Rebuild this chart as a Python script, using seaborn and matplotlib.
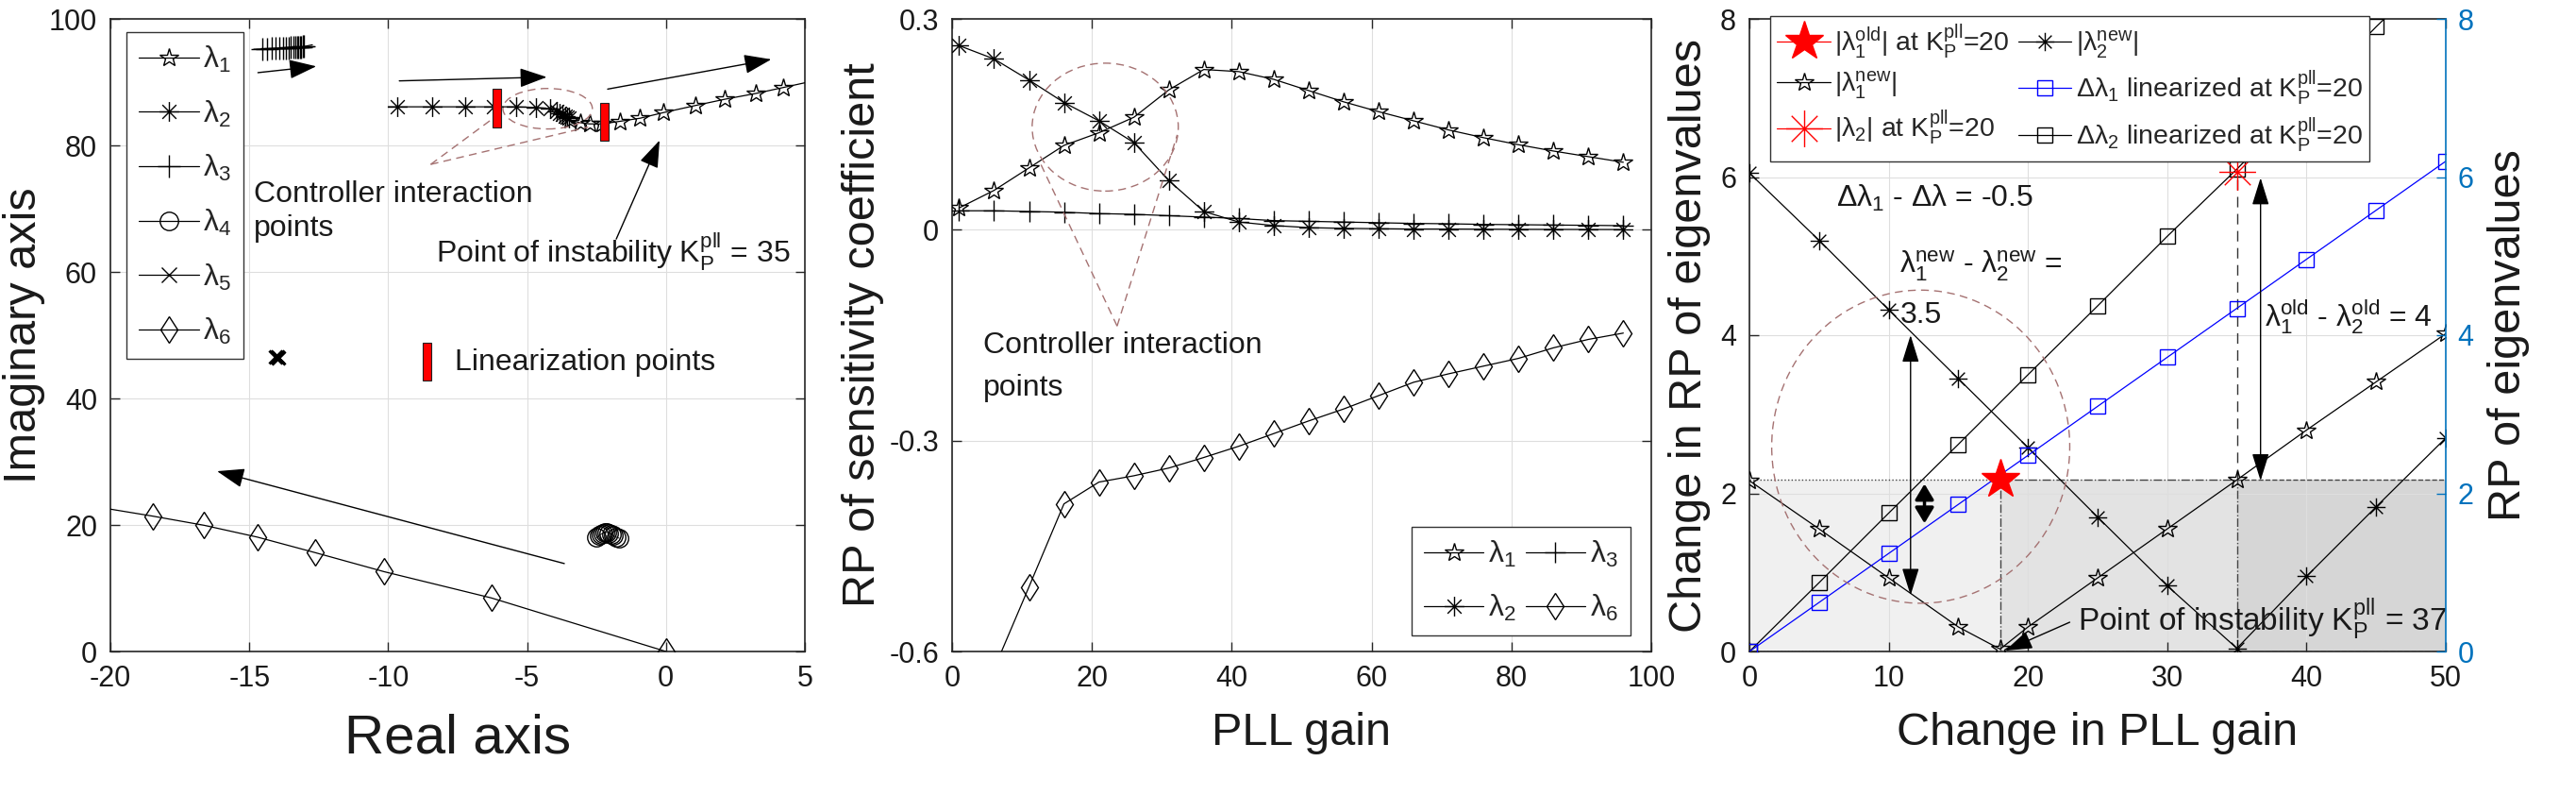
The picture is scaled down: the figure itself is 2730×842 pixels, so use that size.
import matplotlib
matplotlib.use("Agg")
import matplotlib.pyplot as plt
import seaborn as sns
from matplotlib.path import Path
from matplotlib.patches import Ellipse, Rectangle
from matplotlib.lines import Line2D

# ---------------- data : panel 1 (root locus) ----------------
l1_re = [-3.45, -3.10, -2.75, -2.30, -1.67, -0.93, -0.08, 1.05, 2.12, 3.22, 4.22, 5.00]
l1_im = [84.0, 83.6, 83.4, 83.4, 83.8, 84.3, 85.2, 86.3, 87.3, 88.2, 89.15, 89.9]
l2_re = [-10.0, -9.68, -8.41, -7.22, -6.20, -5.40, -4.67, -4.16, -3.95, -3.82, -3.72, -3.64, -3.57, -3.50]
l2_im = [86.1, 86.1, 86.1, 86.1, 86.1, 86.1, 86.0, 85.8, 85.4, 85.1, 84.9, 84.7, 84.5, 84.3]
l3_re = [-14.84, -14.53, -14.35, -14.19, -14.05, -13.92, -13.80, -13.69, -13.59, -13.50, -13.42,
         -13.35, -13.29, -13.23, -13.18, -13.13, -13.08, -13.04, -12.73]
l3_im = [95.2, 95.25, 95.28, 95.31, 95.34, 95.37, 95.40, 95.42, 95.44, 95.46, 95.48,
         95.50, 95.52, 95.54, 95.56, 95.58, 95.60, 95.62, 95.9]
l4_re = [-2.50, -2.42, -2.35, -2.28, -2.20, -2.12, -2.05, -1.98, -1.90, -1.80, -1.68]
l4_im = [18.0, 18.3, 18.5, 18.7, 18.8, 18.8, 18.7, 18.5, 18.3, 18.1, 17.9]
l5_re = [-14.05, -14.00, -13.95]
l5_im = [46.6, 46.5, 46.4]
l6_re = [-20.0, -18.48, -16.63, -14.70, -12.64, -10.15, -6.29, 0.0]
l6_im = [22.5, 21.4, 19.95, 18.07, 15.64, 12.62, 8.47, 0.0]
lin_bars = [(-6.10, 82.8, 88.9), (-2.21, 80.7, 86.7), (-8.61, 42.8, 48.8)]

# ---------------- data : panel 2 (sensitivity) ----------------
k2 = [1, 6, 11, 16, 21, 26, 31, 36, 41, 46, 51, 56, 61, 66, 71, 76, 81, 86, 91, 96]
s_l1 = [0.031, 0.056, 0.088, 0.120, 0.138, 0.160, 0.199, 0.228, 0.225, 0.214, 0.198, 0.182,
        0.168, 0.155, 0.142, 0.131, 0.121, 0.112, 0.104, 0.096]
s_l2 = [0.262, 0.243, 0.213, 0.181, 0.155, 0.124, 0.070, 0.026, 0.011, 0.006, 0.003, 0.002,
        0.0015, 0.001, 0.001, 0.0008, 0.0006, 0.0005, 0.0004, 0.0003]
s_l3 = [0.027, 0.027, 0.026, 0.025, 0.023, 0.022, 0.020, 0.018, 0.016, 0.013, 0.012, 0.011,
        0.010, 0.009, 0.0085, 0.0076, 0.0072, 0.0067, 0.0063, 0.0058]
s_l6 = [-0.74, -0.625, -0.508, -0.390, -0.359, -0.350, -0.339, -0.324, -0.308, -0.290, -0.272,
        -0.255, -0.236, -0.217, -0.205, -0.194, -0.183, -0.168, -0.156, -0.147]

# ---------------- data : panel 3 (eigenvalue change) ----------------
k3 = [0, 5, 10, 15, 20, 25, 30, 35, 40, 45, 50]
lam2_new = [6.05, 5.20, 4.32, 3.45, 2.58, 1.70, 0.83, 0.04, 0.95, 1.83, 2.70]
k3_l1 = [0, 5, 10, 15, 18, 20, 25, 30, 35, 40, 45, 50]
lam1_new = [2.16, 1.55, 0.93, 0.31, 0.03, 0.31, 0.93, 1.55, 2.17, 2.80, 3.41, 4.02]
dlam1 = [0.0, 0.62, 1.24, 1.86, 2.48, 3.10, 3.72, 4.34, 4.96, 5.58, 6.20]
dlam2 = [0.0, 0.87, 1.75, 2.62, 3.50, 4.37, 5.25, 6.10, 7.00, 7.90, 8.75]
lam1_old_pt = (18.0, 2.17)
lam2_old_pt = (35.0, 6.07)
shade_edges = [0, 18, 35, 50]
shade_top = 2.17
shade_faces = ["#f0f0f0", "#e3e3e3", "#d6d6d6"]
shade_styles = [":", "-.", "--"]

# ---------------- style ----------------
sns.set_style("ticks")
plt.rcParams["font.family"] = ["Liberation Sans", "DejaVu Sans"]
plt.rcParams["mathtext.fontset"] = "custom"
plt.rcParams["mathtext.rm"] = "Liberation Sans"
plt.rcParams["mathtext.it"] = "Liberation Sans:italic"
plt.rcParams["mathtext.bf"] = "Liberation Sans:bold"
plt.rcParams["axes.unicode_minus"] = False

TXT = "#1a1a1a"
AX = "#262626"
BROWN = "#a57272"
BLUE_AX = "#0072BD"
FS_TICK = 22
FS_LAB = 35
FS_ANN = 23

ASTER = Path([(0, -1), (0, 1), (-1, 0), (1, 0), (-0.707, -0.707), (0.707, 0.707),
              (-0.707, 0.707), (0.707, -0.707)],
             [Path.MOVETO, Path.LINETO] * 4)

KP = r"K$_\mathrm{P}^\mathrm{pll}$"


def draw(ax, x, y, marker, ms, color="k", mfc="none", lw=0.9, mew=1.0, ls="-", markevery=None, z=3):
    sns.lineplot(x=x, y=y, ax=ax, sort=False, estimator=None, legend=False,
                 color=color, marker=marker, markersize=ms, markerfacecolor=mfc,
                 markeredgecolor=color, markeredgewidth=mew, linewidth=lw, linestyle=ls,
                 markevery=markevery, zorder=z)


def proxy(marker, ms, color="k", mfc="none", lw=0.9, ls="-"):
    return Line2D([], [], color=color, marker=marker, markersize=ms, markerfacecolor=mfc,
                  markeredgecolor=color, markeredgewidth=1.0, linewidth=lw, linestyle=ls)


def arrow(ax, start, end, style="-|>", lw=1.0, hl=0.9, hw=0.32, ms=20):
    ax.annotate("", xy=end, xytext=start,
                arrowprops=dict(arrowstyle=f"{style},head_length={hl},head_width={hw}",
                                color="k", lw=lw, shrinkA=0, shrinkB=0, mutation_scale=ms))


def style(ax, right=True):
    ax.tick_params(direction="in", length=7, width=1, labelsize=FS_TICK, pad=10,
                   top=True, right=right, colors=AX, labelcolor=TXT)
    for s in ax.spines.values():
        s.set_visible(True)
        s.set_color(AX)
        s.set_linewidth(1.2)
    ax.grid(True, color="#dedede", lw=0.8)
    ax.set_axisbelow(True)


fig = plt.figure(figsize=(27.3, 8.42), dpi=100)
H = 670 / 842
B = 1 - 690 / 842
ax1 = fig.add_axes([117 / 2730, B, 736 / 2730, H])
ax2 = fig.add_axes([1009 / 2730, B, 741 / 2730, H])
ax3 = fig.add_axes([1854 / 2730, B, 738 / 2730, H])

# ================= panel 1 =================
draw(ax1, l1_re, l1_im, "*", 15, markevery=list(range(0, len(l1_re) - 1)))
draw(ax1, l2_re, l2_im, ASTER, 15, markevery=list(range(1, len(l2_re))))
draw(ax1, l3_re, l3_im, "+", 17, markevery=list(range(1, len(l3_re) - 1)))
draw(ax1, l4_re, l4_im, "o", 14, lw=0.6)
draw(ax1, l5_re, l5_im, "x", 10, mew=2.2, ls="none")
draw(ax1, l6_re, l6_im, "d", 14.5, markevery=list(range(1, len(l6_re))))
for xc, y0, y1 in lin_bars:
    ax1.add_patch(Rectangle((xc - 0.15, y0), 0.3, y1 - y0, facecolor="#ff0000",
                            edgecolor="#222222", lw=0.8, zorder=5))
ax1.add_patch(Ellipse((-4.26, 85.8), 3.22, 6.4, fill=False, edgecolor=BROWN, lw=1.0,
                      ls=(0, (6, 4)), zorder=4))
ax1.plot([-8.47, -6.0], [77.0, 85.0], color=BROWN, lw=1.0, ls=(0, (6, 4)), zorder=4)
ax1.plot([-8.47, -2.8], [77.0, 82.9], color=BROWN, lw=1.0, ls=(0, (6, 4)), zorder=4)
arrow(ax1, (-9.6, 90.2), (-4.29, 90.8))
arrow(ax1, (-2.1, 88.9), (3.79, 93.6))
arrow(ax1, (-1.79, 65.2), (-0.23, 80.8))
arrow(ax1, (-3.66, 13.9), (-16.16, 28.5))
arrow(ax1, (-14.69, 91.5), (-12.59, 92.5))
ax1.text(-14.84, 71.1, "Controller interaction", fontsize=FS_ANN, color=TXT, va="baseline")
ax1.text(-14.84, 65.7, "points", fontsize=FS_ANN, color=TXT, va="baseline")
ax1.text(-8.28, 61.4, "Point of instability " + KP + " = 35", fontsize=FS_ANN, color=TXT,
         va="baseline")
ax1.text(-7.6, 44.5, "Linearization points", fontsize=FS_ANN, color=TXT, va="baseline")
ax1.set_xlim(-20, 5)
ax1.set_ylim(0, 100)
ax1.set_xticks([-20, -15, -10, -5, 0, 5])
ax1.set_yticks([0, 20, 40, 60, 80, 100])
style(ax1)
ax1.set_xlabel("Real axis", fontsize=42, color=TXT)
ax1.set_ylabel("Imaginary axis", fontsize=FS_LAB, color=TXT)
ax1.xaxis.set_label_coords(0.5, -0.098)
ax1.yaxis.set_label_coords(-0.094, 0.5)
h1 = [proxy("*", 15), proxy(ASTER, 15), proxy("+", 17), proxy("o", 14), proxy("x", 11),
      proxy("d", 14.5)]
lab1 = ["λ$_1$", "λ$_2$", "λ$_3$", "λ$_4$", "λ$_5$", "λ$_6$"]
leg1 = ax1.legend(h1, lab1, loc="upper left", bbox_to_anchor=(0.023, 0.979), fontsize=FS_ANN,
                  handlelength=2.0, handletextpad=0.15, labelspacing=0.8, borderpad=0.4,
                  borderaxespad=0, fancybox=False, framealpha=1, edgecolor="#333333")
leg1.get_frame().set_linewidth(1.0)

# ================= panel 2 =================
draw(ax2, k2, s_l1, "*", 15)
draw(ax2, k2, s_l2, ASTER, 15)
draw(ax2, k2, s_l3, "+", 16)
draw(ax2, k2, s_l6, "d", 14.5)
ax2.add_patch(Ellipse((21.9, 0.146), 20.9, 0.182, fill=False, edgecolor=BROWN, lw=1.0,
                      ls=(0, (6, 4)), zorder=4))
ax2.plot([23.6, 12.6], [-0.137, 0.095], color=BROWN, lw=1.0, ls=(0, (6, 4)), zorder=4)
ax2.plot([23.6, 32.2], [-0.137, 0.135], color=BROWN, lw=1.0, ls=(0, (6, 4)), zorder=4)
ax2.text(4.5, -0.176, "Controller interaction", fontsize=FS_ANN, color=TXT, va="baseline")
ax2.text(4.5, -0.236, "points", fontsize=FS_ANN, color=TXT, va="baseline")
ax2.set_xlim(0, 100)
ax2.set_ylim(-0.6, 0.3)
ax2.set_xticks([0, 20, 40, 60, 80, 100])
ax2.set_yticks([-0.6, -0.3, 0, 0.3])
ax2.set_yticklabels(["-0.6", "-0.3", "0", "0.3"])
style(ax2)
ax2.set_xlabel("PLL gain", fontsize=FS_LAB, color=TXT)
ax2.set_ylabel("RP of sensitivity coefficient", fontsize=FS_LAB, color=TXT)
ax2.xaxis.set_label_coords(0.5, -0.095)
ax2.yaxis.set_label_coords(-0.097, 0.5)
h2 = [proxy("*", 15), proxy(ASTER, 15), proxy("+", 16), proxy("d", 14.5)]
lab2 = ["λ$_1$", "λ$_2$", "λ$_3$", "λ$_6$"]
leg2 = ax2.legend(h2, lab2, loc="lower right", bbox_to_anchor=(0.970, 0.025), ncol=2,
                  fontsize=FS_ANN, handlelength=2.0, handletextpad=0.15, labelspacing=0.8,
                  columnspacing=0.3, borderpad=0.4, borderaxespad=0, fancybox=False,
                  framealpha=1, edgecolor="#333333")
leg2.get_frame().set_linewidth(1.0)

# ================= panel 3 =================
for i in range(3):
    x0, x1 = shade_edges[i], shade_edges[i + 1]
    ax3.add_patch(Rectangle((x0, 0), x1 - x0, shade_top, facecolor=shade_faces[i],
                            edgecolor="none", zorder=0.3))
    ax3.plot([x0, x1], [shade_top, shade_top], color="#444444", lw=1.0, ls=shade_styles[i], zorder=2)
    ax3.plot([x0, x1], [0.0, 0.0], color="#444444", lw=1.0, ls=shade_styles[i], zorder=2)
ax3.plot([18, 18], [0, shade_top], color="#444444", lw=1.0, ls="-.", zorder=2)
ax3.plot([35, 35], [0, shade_top], color="#444444", lw=1.0, ls="-.", zorder=2)
ax3.plot([35, 35], [shade_top, lam2_old_pt[1]], color="#333333", lw=1.0, ls=(0, (8, 5)), zorder=2)

draw(ax3, k3, lam2_new, ASTER, 14)
draw(ax3, k3_l1, lam1_new, "*", 15)
draw(ax3, k3, dlam2, "s", 12)
draw(ax3, k3, dlam1, "s", 12, color="#0000ff")
draw(ax3, [lam1_old_pt[0]], [lam1_old_pt[1]], "*", 31, color="#ff0000", mfc="#ff0000", ls="none", z=6)
draw(ax3, [lam2_old_pt[0]], [lam2_old_pt[1]], ASTER, 28, color="#ff0000", ls="none", z=6)
ax3.add_patch(Ellipse((12.3, 2.59), 21.4, 3.96, fill=False, edgecolor=BROWN, lw=1.0,
                      ls=(0, (6, 4)), zorder=4))
arrow(ax3, (11.57, 0.71), (11.57, 4.0), style="<|-|>", hl=0.9, hw=0.28)
arrow(ax3, (12.57, 1.62), (12.57, 2.12), style="<|-|>", lw=2.5, hl=0.5, hw=0.3)
arrow(ax3, (36.7, 2.16), (36.7, 5.99), style="<|-|>", hl=0.9, hw=0.28)
arrow(ax3, (23.0, 0.37), (18.36, 0.01), hl=0.9, hw=0.3)
ax3.text(6.2, 5.63, "Δλ$_1$ - Δλ = -0.5", fontsize=FS_ANN, color=TXT, va="baseline")
ax3.text(10.8, 4.78, "λ$_1^\\mathrm{new}$ - λ$_2^\\mathrm{new}$ =", fontsize=FS_ANN, color=TXT,
         va="baseline")
ax3.text(10.8, 4.15, "3.5", fontsize=FS_ANN, color=TXT, va="baseline")
ax3.text(37.0, 4.11, "λ$_1^\\mathrm{old}$ - λ$_2^\\mathrm{old}$ = 4", fontsize=FS_ANN, color=TXT,
         va="baseline", clip_on=False)
ax3.text(23.6, 0.27, "Point of instability " + KP + " = 37", fontsize=FS_ANN + 1, color=TXT,
         va="baseline")
ax3.set_xlim(0, 50)
ax3.set_ylim(0, 8)
ax3.set_xticks([0, 10, 20, 30, 40, 50])
ax3.set_yticks([0, 2, 4, 6, 8])
style(ax3, right=False)
ax3.spines["right"].set_visible(False)
ax3.set_xlabel("Change in PLL gain", fontsize=FS_LAB, color=TXT)
ax3.set_ylabel("Change in RP of eigenvalues", fontsize=FS_LAB, color=TXT)
ax3.xaxis.set_label_coords(0.5, -0.095)
ax3.yaxis.set_label_coords(-0.056, 0.5)

ax3r = ax3.twinx()
ax3r.set_ylim(0, 8)
ax3r.set_yticks([0, 2, 4, 6, 8])
ax3r.tick_params(axis="y", direction="in", length=7, width=1, labelsize=FS_TICK, pad=9,
                 colors=BLUE_AX)
for nm in ["left", "top", "bottom"]:
    ax3r.spines[nm].set_visible(False)
ax3r.spines["right"].set_color(BLUE_AX)
ax3r.spines["right"].set_linewidth(1.2)
ax3r.grid(False)
ax3r.set_ylabel("RP of eigenvalues", fontsize=FS_LAB, color=TXT)
ax3r.yaxis.set_label_coords(1.06, 0.5)

h3 = [proxy("*", 31, color="#ff0000", mfc="#ff0000"), proxy("*", 15),
      proxy(ASTER, 28, color="#ff0000"), proxy(ASTER, 14),
      proxy("s", 12, color="#0000ff"), proxy("s", 12)]
lab3 = ["|λ$_1^\\mathrm{old}$| at " + KP + "=20", "|λ$_1^\\mathrm{new}$|",
        "|λ$_2$| at " + KP + "=20", "|λ$_2^\\mathrm{new}$|",
        "Δλ$_1$ linearized at " + KP + "=20", "Δλ$_2$ linearized at " + KP + "=20"]
leg3 = ax3.legend(h3, lab3, loc="upper left", bbox_to_anchor=(0.030, 1.005), ncol=2,
                  fontsize=20.5, handlelength=2.0, handletextpad=0.15, labelspacing=0.3,
                  columnspacing=0.3, borderpad=0.25, borderaxespad=0, fancybox=False,
                  framealpha=1, edgecolor="#333333")
leg3.get_frame().set_linewidth(1.0)
leg3.set_zorder(10)

fig.savefig("out.png", dpi=100)
